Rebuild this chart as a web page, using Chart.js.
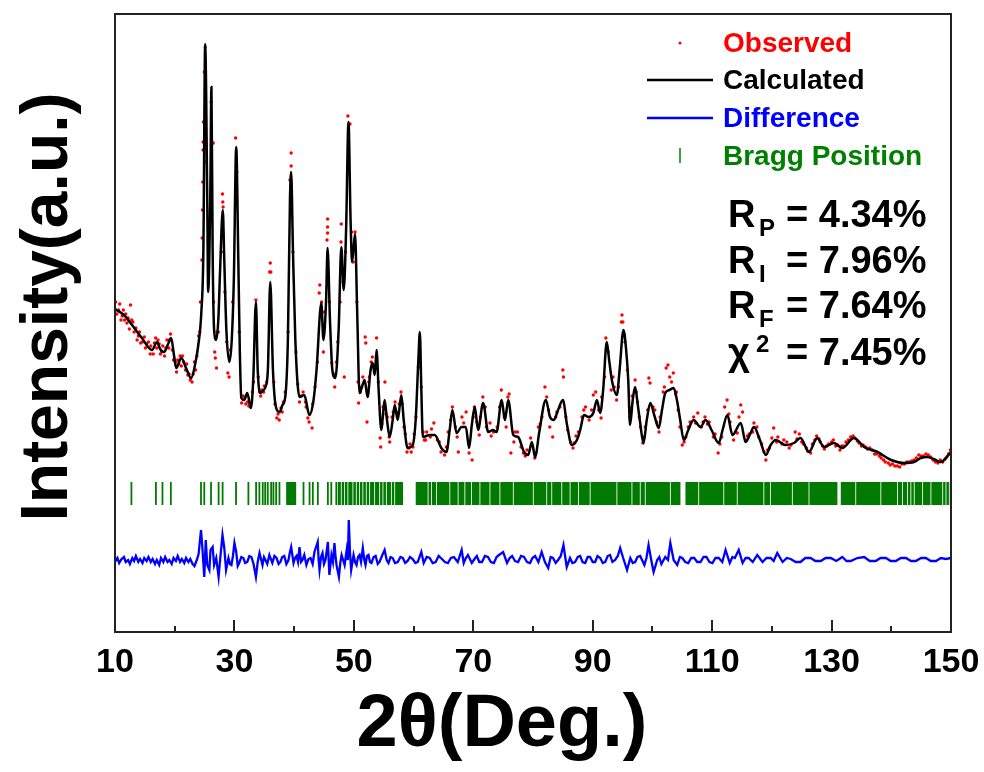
<!DOCTYPE html>
<html>
<head>
<meta charset="utf-8">
<script src="https://cdn.jsdelivr.net/npm/chart.js@4.4.0/dist/chart.umd.min.js"></script>
<style>
  html, body { margin: 0; padding: 0; background: #fff; }
  canvas { display: block; }
</style>
</head>
<body>
<canvas id="js--chart--xrd" width="984" height="772"></canvas>
<script>
// calculated profile (2theta, intensity a.u.)
const calcTheta = [10.0,11.5,12.85,14.5,16.2,17.05,17.55,18.2,18.9,19.4,19.9,20.25,21.1,21.9,22.75,23.4,23.95,24.45,24.8,25.1,
  25.45,25.6,25.95,26.15,26.35,26.6,26.95,27.3,27.6,28.05,28.3,28.65,29.15,29.55,29.9,30.3,30.65,30.9,31.15,31.65,
  32.15,32.75,33.15,33.6,33.9,34.4,34.85,35.2,35.6,36.0,36.45,36.95,37.55,38.05,38.55,38.95,39.3,39.5,39.8,40.2,
  40.9,41.7,42.55,43.25,43.75,44.55,44.9,45.35,45.6,46.0,46.4,46.9,47.45,47.9,48.3,48.7,49.1,49.45,49.7,50.2,
  50.55,50.95,51.45,51.8,52.3,52.8,53.15,53.5,53.8,54.15,54.6,54.8,55.15,55.55,56.0,56.5,56.85,57.35,57.95,58.35,
  59.0,59.85,60.35,60.8,61.05,61.3,61.55,62.7,63.55,64.65,65.5,66.05,66.5,67.2,68.05,68.75,69.3,69.75,70.25,70.8,
  71.65,72.5,73.3,73.9,74.75,75.3,75.85,76.7,77.5,78.5,79.2,79.8,80.35,81.05,82.15,82.85,83.5,84.2,85.0,85.7,
  86.5,87.35,87.9,88.55,89.3,90.1,90.7,91.25,91.75,92.35,92.75,93.2,94.05,94.5,95.15,95.6,95.95,96.25,96.7,97.1,
  97.55,97.95,98.5,99.05,99.65,100.3,101.05,101.6,102.15,102.85,103.55,104.1,104.65,105.25,106.0,106.9,108.05,108.9,109.9,111.1,
  111.75,112.55,113.4,114.8,115.6,116.3,117.0,118.0,119.0,119.8,120.65,122.3,123.7,124.8,126.2,127.6,128.75,130.4,131.8,133.75,
  135.45,137.7,139.95,142.15,143.8,144.95,146.05,147.1,148.3,150.0];
const calcInt = [323,317,307,294,282,290,283,280,288,294,276,264,274,264,254,267,287,319,382,588,
  432,340,432,545,382,302,292,312,362,422,372,302,270,292,352,485,372,282,234,232,
  239,224,252,330,262,239,242,245,262,350,262,225,220,227,237,292,432,460,382,292,
  235,237,217,232,262,329,292,332,384,312,262,254,302,385,342,402,510,412,370,398,
  322,239,247,252,235,262,269,257,282,242,202,212,232,212,195,212,227,212,237,212,
  184,187,212,272,300,242,195,197,197,184,180,202,222,199,205,205,184,207,225,202,
  229,200,202,200,232,212,232,197,195,180,177,190,175,200,232,215,212,222,232,207,
  187,192,202,217,215,219,232,219,242,290,272,252,237,262,302,282,252,207,232,245,
  227,209,189,212,229,217,204,222,239,242,244,232,212,192,202,212,205,212,202,189,
  202,217,197,209,190,197,205,192,177,187,192,187,189,194,180,194,185,189,184,194,
  185,180,172,169,170,174,175,173,170,180];

// observed points
const obsTheta = [10.1,10.6,11.2,11.8,12.4,12.6,13.0,13.9,14.6,15.3,15.9,16.6,17.2,17.8,18.5,19.1,19.6,20.1,20.7,21.3,
  21.8,22.4,22.9,23.5,24.0,24.3,24.55,24.6,24.65,24.7,24.75,24.75,24.8,24.95,25.1,25.3,25.65,26.1,26.3,26.45,
  26.5,26.8,27.0,27.3,27.8,28.0,28.05,28.1,28.4,28.9,29.1,29.7,30.2,30.4,30.8,31.2,31.7,32.2,32.7,33.2,
  33.6,34.0,34.4,34.9,35.4,35.9,36.0,36.1,36.6,37.1,37.5,38.0,38.5,39.0,39.3,39.5,39.5,39.8,40.3,40.9,
  41.5,42.0,42.5,43.0,43.5,43.9,44.2,44.3,44.6,44.9,45.1,45.5,45.6,45.6,45.6,45.9,46.3,46.8,47.3,47.7,
  47.85,47.9,48.2,48.4,48.6,49.0,49.35,49.6,49.9,50.2,50.5,50.8,51.1,51.5,51.9,52.0,52.2,52.5,52.9,53.3,
  53.8,54.1,54.4,54.5,54.9,55.2,55.6,56.0,56.4,56.9,57.4,57.9,58.4,58.9,59.4,59.9,60.4,60.8,61.0,61.3,
  61.6,62.2,62.8,63.4,64.0,64.6,65.2,65.8,66.5,67.0,67.5,68.1,68.8,69.3,69.8,70.2,70.6,71.2,71.6,72.2,
  72.8,73.4,74.0,74.7,75.2,75.8,76.3,76.8,77.4,78.0,78.4,79.0,79.6,80.3,80.9,81.5,82.0,82.3,82.8,83.3,
  84.0,84.5,85.0,85.1,85.5,86.3,86.9,87.6,88.2,88.8,89.4,90.1,90.5,91.0,91.5,92.2,92.6,93.1,93.6,94.3,
  94.8,94.9,95.05,95.4,95.8,96.2,96.6,97.1,97.5,98.0,98.4,98.8,99.4,99.6,100.1,100.7,101.3,101.8,102.3,102.6,
  102.9,103.5,104.0,104.6,105.0,105.6,106.3,106.9,107.6,108.2,108.8,109.5,110.2,111.0,111.6,112.1,112.5,113.0,113.6,114.2,
  114.8,115.1,115.6,116.2,117.0,117.5,118.3,119.0,119.6,120.3,121.0,121.7,122.5,123.2,123.9,124.6,125.3,126.0,126.8,127.5,
  128.1,128.8,129.5,130.3,131.0,131.7,132.4,133.2,133.9,134.6,135.3,136.0,136.8,137.5,138.3,139.0,139.8,140.6,141.4,142.2,
  143.0,143.8,144.6,145.4,146.2,147.0,147.8,148.6,149.3,149.9,
  10.3,10.8,11.0,11.4,11.6,12.0,12.2,12.8,13.2,13.5,13.7,14.1,14.3,14.9,15.1,15.6,16.0,16.4,16.8,17.0,
  17.4,17.6,18.0,18.3,18.7,19.0,19.3,19.8,20.3,20.5,20.9,21.1,21.5,22.0,22.2,22.6,23.1,23.3,23.7,24.2,
  26.7,27.1,28.7,29.3,31.4,31.9,32.4,33.0,34.2,34.6,35.0,36.8,37.3,37.8,38.2,40.6,41.2,41.9,42.3,43.1,
  46.6,47.1,50.7,51.3,52.6,53.1,53.6,54.7,55.4,55.9,56.6,57.1,57.6,58.1,58.6,59.2,59.6,60.1,61.8,62.0,
  63.0,64.3,65.5,66.2,67.3,68.4,70.0,71.0,72.0,73.0,74.4,75.5,76.0,77.0,78.7,79.9,81.2,82.6,83.8,85.8,
  86.7,87.2,88.5,89.8,91.4,92.0,93.4,94.0,95.3,96.4,97.3,97.8,98.6,99.2,100.4,101.1,102.0,103.2,103.9,104.3,
  105.3,106.0,107.2,108.5,109.2,110.5,111.3,112.8,113.9,114.5,115.9,116.8,117.8,118.7,119.3,120.0,120.8,122.0,122.9,124.2,
  125.0,125.8,126.5,127.2,127.9,128.5,129.2,130.0,130.7,131.4,132.0,132.8,133.6,134.3,135.0,135.7,136.4,137.2,138.0,138.7,
  139.5,140.2,141.0,141.8,142.6,143.4,144.2,145.0,145.8,146.6,147.4,148.2,149.0,149.6];
const obsInt = [330,322,316,318,303,327,310,296,290,288,278,289,292,280,284,292,282,270,268,276,
  262,258,250,262,296,330,372,394,422,450,482,490,510,560,585,470,350,530,489,489,
  330,274,264,300,380,438,430,425,340,259,255,330,494,460,300,229,235,230,225,250,
  332,255,236,240,250,360,369,360,250,214,212,220,240,300,452,479,466,380,280,230,
  240,225,210,204,245,270,339,347,330,280,320,392,413,405,399,330,269,245,290,330,
  390,408,350,255,380,516,508,400,370,400,330,229,240,255,295,289,210,250,270,265,
  294,250,194,185,225,250,215,190,215,230,218,240,205,180,188,185,215,265,265,245,
  200,200,195,209,192,180,177,200,225,205,180,215,220,179,172,225,210,215,235,205,
  209,200,205,242,215,235,179,190,200,185,179,182,194,174,205,215,245,235,205,195,
  220,225,262,255,215,190,189,200,215,225,212,237,240,222,235,294,280,242,245,245,
  310,317,310,290,262,215,236,252,230,205,189,205,254,249,225,210,215,240,264,267,
  255,259,240,205,187,195,210,215,219,205,215,210,195,179,195,225,232,210,192,199,
  227,220,192,198,209,205,188,172,184,204,195,188,190,187,200,198,188,181,188,196,
  190,183,188,192,187,186,190,195,194,189,187,183,182,178,174,170,167,166,165,168,
  170,172,177,176,177,172,169,170,175,182,
  318,328,312,322,312,309,314,312,300,304,292,300,289,295,284,290,286,278,294,284,
  288,278,286,276,292,284,298,272,260,272,276,266,270,268,257,252,258,270,276,300,
  280,300,290,282,236,228,226,240,240,242,246,228,218,224,230,248,236,230,214,228,
  258,270,250,245,255,275,265,208,218,195,220,220,228,228,198,184,180,198,192,192,
  203,190,185,212,195,209,215,197,225,196,225,205,238,200,176,186,208,222,215,202,
  184,196,222,222,214,255,255,232,296,224,240,215,195,222,222,200,245,250,238,222,
  190,205,209,210,208,198,188,218,200,215,196,200,195,180,182,194,190,192,184,193,
  190,184,179,192,193,186,186,190,186,182,186,192,196,191,186,185,184,178,176,172,
  169,168,166,168,170,171,174,176,178,175,170,172,173,178];

// difference curve (already offset below the pattern)
const diffTheta = [10.0,10.4,10.7,11.1,11.5,11.8,12.2,12.5,12.9,13.2,13.5,13.9,14.2,14.6,14.9,15.3,15.6,16.0,16.3,16.7,
  17.0,17.4,17.7,18.1,18.4,18.8,19.1,19.5,19.8,20.2,20.5,20.9,21.2,21.6,21.9,22.3,22.6,23.0,23.3,23.7,
  24.0,24.4,24.6,24.95,25.2,25.45,25.8,26.0,26.35,26.6,26.95,27.35,27.6,28.0,28.3,28.6,29.0,29.25,29.5,29.75,
  30.0,30.3,30.55,30.8,31.15,31.5,31.8,32.15,32.5,32.85,33.2,33.6,33.9,34.2,34.7,34.95,35.2,35.5,35.85,36.35,
  36.7,37.05,37.4,37.7,38.0,38.35,38.7,39.05,39.3,39.5,39.9,40.15,40.4,40.65,40.9,41.15,41.4,41.7,42.05,42.4,
  42.75,43.1,43.4,43.95,44.1,44.25,44.5,44.75,45.0,45.25,45.65,45.9,46.25,46.5,46.75,46.95,47.1,47.5,47.75,47.95,
  48.2,48.45,48.8,49.0,49.15,49.35,49.55,49.95,50.2,50.45,50.7,50.95,51.2,51.5,51.75,51.95,52.2,52.45,52.7,52.95,
  53.3,53.65,54.0,54.3,54.7,55.15,55.5,55.8,56.15,56.5,56.9,57.35,57.8,58.2,58.6,59.0,59.4,59.85,60.3,60.7,
  61.0,61.3,61.7,62.2,62.7,63.2,63.7,64.2,64.75,65.25,65.75,66.25,66.75,67.4,68.05,68.4,68.75,69.1,69.75,70.2,
  70.6,71.0,71.45,71.95,72.45,72.95,73.45,73.9,74.3,75.0,75.65,76.1,76.5,77.0,77.5,78.0,78.5,79.0,79.5,79.9,
  80.35,80.9,81.45,82.0,82.55,82.95,83.35,83.8,84.2,84.65,85.1,85.65,86.2,86.6,87.05,87.5,87.9,88.3,88.75,89.15,
  89.55,90.0,90.4,90.8,91.25,91.7,92.1,92.5,92.9,93.3,93.75,94.2,94.6,95.1,95.75,96.3,96.7,97.1,97.5,97.95,
  98.65,99.0,99.35,99.8,100.2,100.8,101.15,101.5,102.15,102.6,103.0,103.55,104.15,104.6,105.0,105.5,106.0,106.5,107.0,107.5,
  108.05,108.55,109.05,109.55,110.05,110.55,111.1,111.7,112.25,112.95,113.4,113.8,114.45,115.1,115.6,116.1,116.8,117.55,118.45,119.1,
  119.8,120.3,120.9,121.8,122.5,123.15,124.0,124.8,125.6,126.5,127.3,128.2,129.0,129.85,130.8,131.8,132.5,133.2,134.3,135.45,
  136.4,137.4,138.2,139.1,139.9,140.75,141.6,142.45,143.3,144.1,145.0,145.8,146.6,147.5,148.3,149.15,150.0];
const diffInt = [70,74,69,73,75,70,72,68,74,71,76,70,73,69,74,71,75,70,73,68,
  72,67,74,70,75,70,72,68,74,71,76,70,73,69,74,70,73,68,66,72,
  78,102,87,55,92,67,62,82,85,67,74,55,72,97,84,62,74,68,67,76,
  89,80,66,69,75,74,69,70,76,75,68,55,70,79,67,75,72,68,77,69,
  76,74,68,70,75,76,68,72,80,85,69,74,76,70,85,70,72,77,67,73,
  74,68,80,90,72,62,75,79,68,72,90,57,77,70,89,74,67,55,70,77,
  72,67,82,72,112,80,62,77,70,67,75,77,70,84,72,67,76,77,70,69,
  75,76,68,70,76,82,72,69,75,74,69,70,75,74,69,71,75,73,69,70,
  75,80,69,75,74,69,70,76,73,70,69,74,75,70,82,69,74,77,69,73,
  76,70,70,76,75,70,69,75,77,80,69,74,76,71,70,76,75,70,69,74,
  76,70,80,70,64,75,74,69,72,76,87,65,74,69,70,75,76,70,69,75,
  75,70,70,76,74,69,70,76,77,70,72,76,84,74,62,74,69,70,75,76,
  67,74,87,72,60,72,75,68,75,72,89,72,67,75,74,70,69,74,74,70,
  70,75,75,70,69,74,74,70,82,69,75,74,82,69,74,74,70,77,70,74,
  74,71,79,70,74,73,70,70,74,74,71,71,74,74,71,75,71,71,74,75,
  71,71,74,74,71,71,74,74,71,71,74,74,71,71,74,73,74];

// Bragg reflections, [from, to] in 2theta (close reflections merge into blocks)
const braggBands = [[12.6,12.9],[16.7,17.0],[17.8,18.1],[19.2,19.5],[24.25,24.55],[24.8,25.1],[25.93,26.23],[27.2,27.5],
  [27.87,28.17],[30.12,30.42],[32.19,32.49],[33.48,33.78],[34.03,34.33],[34.59,34.89],[35.0,35.3],[35.43,35.73],
  [36.0,36.3],[36.38,36.68],[36.84,37.14],[37.39,37.69],[38.66,40.34],[41.42,41.72],[42.43,42.73],[42.98,43.28],
  [43.82,44.12],[45.5,45.8],[46.07,46.37],[46.91,47.21],
  [47.32,47.82],[47.96,48.37],[48.51,48.93],[49.07,49.77],[49.91,50.34],[50.48,50.89],[51.03,51.44],[51.58,52.01],
  [52.15,52.57],[52.71,53.41],[53.55,54.25],[54.39,54.8],[54.94,55.37],[55.51,56.21],[56.35,56.77],[56.91,58.23],
  [60.36,62.36],[62.5,62.93],[63.07,63.77],[63.91,66.0],[66.14,67.39],[67.53,68.52],[68.66,69.64],[69.78,71.04],
  [71.18,72.72],[72.86,74.39],[74.53,76.63],[76.77,79.98],[80.12,82.23],[82.37,83.07],[83.21,84.75],[84.89,86.14],
  [86.28,87.54],[87.68,89.5],[89.64,93.98],[94.12,96.5],[96.64,97.89],[98.03,98.73],[98.87,102.93],[103.07,104.69],
  [105.53,107.68],[107.82,111.88],[112.02,114.13],[114.27,118.59],[118.73,119.72],[119.86,123.36],[123.5,126.15],[126.29,130.98],
  [131.54,133.98],[134.12,138.18],[138.32,140.98],[141.12,141.82],[141.96,142.66],[142.8,143.21],[143.35,143.77],[143.91,145.18],
  [145.32,146.57],[146.71,148.54],[148.68,149.09],[149.23,149.65],[149.79,150.0]];
const braggLevel = 138.5;

const xMajorTicks = [10, 30, 50, 70, 90, 110, 130, 150];
const xMinorTicks = [20, 40, 60, 80, 100, 120, 140];

// refinement factors
const fitSymbols = ['R', 'R', 'R', '\u03C7'];
const fitMarks = ['P', 'I', 'F', '2'];
const fitValues = [4.34, 7.96, 7.64, 7.45];

const FONT = '"Liberation Sans", Arial, sans-serif';
Chart.defaults.font.family = FONT;

const braggPoints = [];
braggBands.forEach(b => {
  braggPoints.push({x: b[0], y: braggLevel}, {x: b[1], y: braggLevel}, {x: b[1], y: null});
});

const decorations = {
  id: 'decorations',
  afterDraw(chart) {
    const {ctx, chartArea: a, scales: {x}} = chart;
    ctx.save();
    // frame
    ctx.strokeStyle = '#222';
    ctx.lineWidth = 2;
    ctx.strokeRect(a.left, a.top, a.right - a.left, a.bottom - a.top);
    // inward ticks
    ctx.beginPath();
    xMajorTicks.forEach(v => { const px = Math.round(x.getPixelForValue(v)); ctx.moveTo(px, a.bottom); ctx.lineTo(px, a.bottom - 12); });
    xMinorTicks.forEach(v => { const px = Math.round(x.getPixelForValue(v)); ctx.moveTo(px, a.bottom); ctx.lineTo(px, a.bottom - 6); });
    ctx.stroke();

    // axis titles
    ctx.fillStyle = '#000';
    ctx.textAlign = 'center';
    ctx.textBaseline = 'alphabetic';
    ctx.font = 'bold 74px ' + FONT;
    ctx.fillText('2\u03B8(Deg.)', 502, 746);
    ctx.save();
    ctx.translate(67, 307);
    ctx.rotate(-Math.PI / 2);
    ctx.font = 'bold 66px ' + FONT;
    ctx.fillText('Intensity(a.u.)', 0, 0);
    ctx.restore();

    // legend
    const ds = chart.data.datasets;
    const rows = [43, 80, 118, 156];
    ctx.textAlign = 'left';
    ctx.textBaseline = 'middle';
    ctx.font = 'bold 28px ' + FONT;
    ds.forEach((d, i) => {
      const y = rows[i];
      ctx.fillStyle = d.legendColor;
      ctx.strokeStyle = d.legendColor;
      if (d.legendKind === 'dot') {
        ctx.beginPath(); ctx.arc(680, y, 1.5, 0, Math.PI * 2); ctx.fill();
      } else if (d.legendKind === 'line') {
        ctx.lineWidth = 2.5;
        ctx.beginPath(); ctx.moveTo(647, y); ctx.lineTo(713, y); ctx.stroke();
      } else {
        ctx.lineWidth = 1.5;
        ctx.beginPath(); ctx.moveTo(680, y - 8); ctx.lineTo(680, y + 7); ctx.stroke();
      }
      ctx.fillText(d.label, 723, y + 1);
    });

    // fit statistics
    const base = [227, 273, 318, 365];
    ctx.fillStyle = '#000';
    ctx.textBaseline = 'alphabetic';
    fitSymbols.forEach((s, i) => {
      ctx.font = 'bold 38px ' + FONT;
      ctx.fillText(s, 728, base[i]);
      ctx.font = 'bold 24px ' + FONT;
      const sup = fitMarks[i] === '2';
      ctx.fillText(fitMarks[i], sup ? 756 : 759, sup ? base[i] - 13 : base[i] + 9);
      ctx.font = 'bold 38px ' + FONT;
      ctx.fillText('= ' + fitValues[i].toFixed(2) + '%', 786, base[i]);
    });
    ctx.restore();
  }
};

new Chart(document.getElementById('js--chart--xrd'), {
  type: 'scatter',
  data: {
    datasets: [
      {
        label: 'Observed', legendKind: 'dot', legendColor: '#ff0000', order: 2,
        data: obsTheta.map((t, i) => ({x: t, y: obsInt[i]})),
        pointRadius: 1.7, pointBackgroundColor: '#ff0000', pointBorderWidth: 0, showLine: false
      },
      {
        label: 'Calculated', legendKind: 'line', legendColor: '#000000', order: 1,
        data: calcTheta.map((t, i) => ({x: t, y: calcInt[i]})),
        showLine: true, borderColor: '#000', borderWidth: 2.5, pointRadius: 0,
        cubicInterpolationMode: 'monotone'
      },
      {
        label: 'Difference', legendKind: 'line', legendColor: '#0000ff', order: 3,
        data: diffTheta.map((t, i) => ({x: t, y: diffInt[i]})),
        showLine: true, borderColor: '#0000ff', borderWidth: 2.3, pointRadius: 0
      },
      {
        label: 'Bragg Position', legendKind: 'tick', legendColor: '#008000', order: 4,
        data: braggPoints,
        showLine: true, spanGaps: false, borderColor: '#007a00', borderWidth: 23,
        borderCapStyle: 'butt', pointRadius: 0
      }
    ]
  },
  options: {
    responsive: false,
    animation: false,
    layout: { padding: { top: 14, right: 33, left: 0, bottom: 0 } },
    plugins: { legend: { display: false }, tooltip: { enabled: false } },
    scales: {
      x: {
        type: 'linear', min: 10, max: 150,
        ticks: { stepSize: 20, color: '#000', padding: 2, font: { size: 34, weight: 'bold' } },
        grid: { display: false },
        border: { display: false },
        afterFit(s) { s.height = 140; s.paddingLeft = 0; s.paddingRight = 0; }
      },
      y: {
        min: 0, max: 618,
        ticks: { display: false },
        grid: { display: false },
        border: { display: false },
        afterFit(s) { s.width = 115; s.paddingTop = 0; s.paddingBottom = 0; }
      }
    }
  },
  plugins: [decorations]
});
</script>
</body>
</html>
